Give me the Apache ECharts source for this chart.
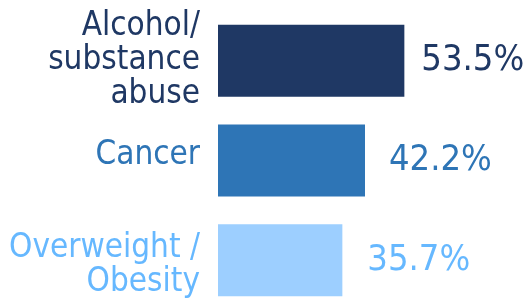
<!DOCTYPE html>
<html>
<head>
<meta charset="utf-8">
<script src="https://cdn.jsdelivr.net/npm/echarts@6/dist/echarts.min.js"></script>
<style>
  html, body { margin: 0; padding: 0; background: #fff; }
  #chart { width: 528px; height: 299px; }
</style>
</head>
<body>
<div id="chart"></div>
<script>
const categories = ['Alcohol/\nsubstance\nabuse', 'Cancer', 'Overweight /\nObesity']
const values = [53.5, 42.2, 35.7]
const barColors = ['#1F3864', '#2E75B6', '#9DCFFF']
const textColors = ['#1F3864', '#2E75B6', '#66B8FF']
const labelGaps = [17, 24, 25]
// vertical nudge of category text (px, + = down)
const labelShift = [0, -5, 5]

const FONT = '"DejaVu Sans Condensed", "DejaVu Sans", Verdana, sans-serif'

const rich = { s: { fontSize: 1, lineHeight: 10 } }
textColors.forEach((c, i) => {
  rich['t' + i] = { color: c, fontFamily: FONT, fontSize: 33, lineHeight: 34 }
})

const chart = echarts.init(document.getElementById('chart'))

const option = {
  animation: false,
  grid: { left: 218, top: 11, width: 209, height: 299, outerBoundsMode: 'none', containLabel: false },
  xAxis: {
    type: 'value',
    min: 0,
    max: 60,
    show: false
  },
  yAxis: {
    type: 'category',
    data: categories,
    inverse: true,
    axisLine: { show: false },
    axisTick: { show: false },
    axisLabel: {
      margin: 18,
      align: 'right',
      rich,
      formatter: (val, idx) => {
        let lines = val.split('\n').map((l) => `{t${idx}|${l}}`)
        if (labelShift[idx] < 0) lines.push('{s| }')
        if (labelShift[idx] > 0) lines.unshift('{s| }')
        return lines.join('\n')
      }
    }
  },
  series: [{
    type: 'bar',
    barWidth: 72,
    data: values.map((v, i) => ({
      value: v,
      itemStyle: { color: barColors[i] },
      label: { distance: labelGaps[i], color: textColors[i] }
    })),
    label: {
      show: true,
      position: 'right',
      fontFamily: FONT,
      fontSize: 36,
      formatter: (p) => p.value.toFixed(1) + '%'
    }
  }]
}

chart.setOption(option)
</script>
</body>
</html>
